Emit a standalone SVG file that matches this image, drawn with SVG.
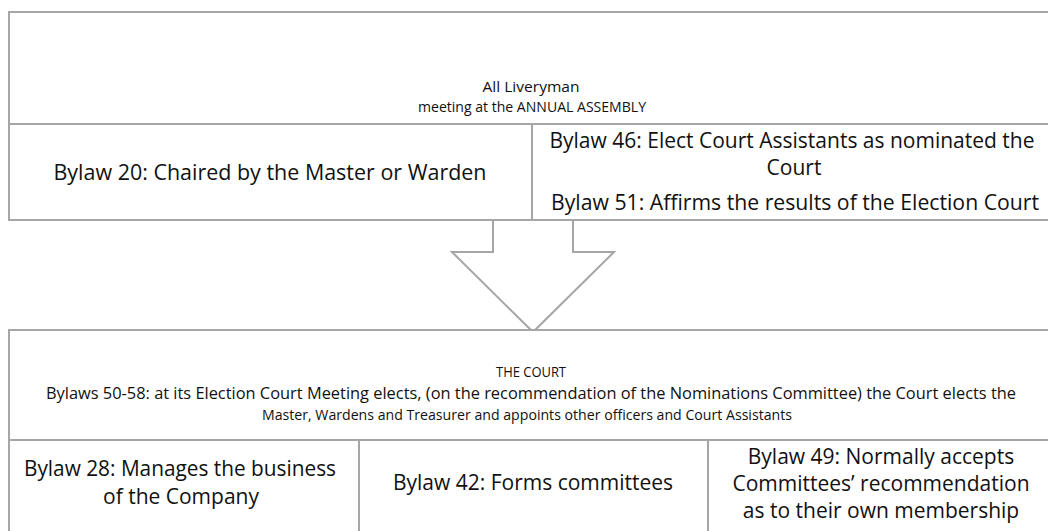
<svg xmlns="http://www.w3.org/2000/svg" width="1048" height="531" viewBox="0 0 1048 531">
  <style>
    .box { fill: #ffffff; stroke: #a6a6a6; stroke-width: 2; }
    .ln { stroke: #a6a6a6; stroke-width: 2; fill: none; }
    .sm { font-family: "Open Sans", "Liberation Sans", sans-serif; font-size: 14.5px; fill: #111111; text-anchor: middle; }
    .lg { font-family: "Open Sans", "Liberation Sans", sans-serif; font-size: 21px; fill: #111111; text-anchor: middle; }
  </style>
  <rect width="1048" height="531" fill="#ffffff"/>
  <g id="assembly">
    <rect class="box" x="9" y="12" width="1045" height="208"/>
    <line class="ln" x1="9" y1="124" x2="1054" y2="124"/>
    <line class="ln" x1="532" y1="124" x2="532" y2="220"/>
    <text class="sm" x="531" y="92" textLength="97" lengthAdjust="spacingAndGlyphs">All Liveryman</text>
    <text class="sm" x="532" y="112" textLength="228" lengthAdjust="spacingAndGlyphs">meeting at the ANNUAL ASSEMBLY</text>
  </g>
  <g id="bylaw20">
    <text class="lg" x="270" y="180" textLength="433" lengthAdjust="spacingAndGlyphs">Bylaw 20: Chaired by the Master or Warden</text>
  </g>
  <g id="bylaw46-51">
    <text class="lg" x="792" y="148">Bylaw 46: Elect Court Assistants as nominated the</text>
    <text class="lg" x="794" y="175">Court</text>
    <text class="lg" x="795" y="210" textLength="488" lengthAdjust="spacingAndGlyphs">Bylaw 51: Affirms the results of the Election Court</text>
  </g>
  <g id="connectors">
    <polygon class="box" points="493,220 573,220 573,252 614,252 533,332 452,252 493,252"/>
  </g>
  <g id="court">
    <rect class="box" x="9" y="330" width="1045" height="215"/>
    <line class="ln" x1="9" y1="440" x2="1054" y2="440"/>
    <line class="ln" x1="359" y1="440" x2="359" y2="545"/>
    <line class="ln" x1="708" y1="440" x2="708" y2="545"/>
    <text class="sm" x="531" y="377" textLength="70" lengthAdjust="spacingAndGlyphs">THE COURT</text>
    <text class="sm" x="531" y="399" style="font-size:15.5px" textLength="970" lengthAdjust="spacingAndGlyphs">Bylaws 50-58: at its Election Court Meeting elects, (on the recommendation of the Nominations Committee) the Court elects the</text>
    <text class="sm" x="527" y="420" textLength="530" lengthAdjust="spacingAndGlyphs">Master, Wardens and Treasurer and appoints other officers and Court Assistants</text>
  </g>
  <g id="bylaw28">
    <text class="lg" x="180" y="476" textLength="312" lengthAdjust="spacingAndGlyphs">Bylaw 28: Manages the business</text>
    <text class="lg" x="181" y="504">of the Company</text>
  </g>
  <g id="bylaw42">
    <text class="lg" x="533" y="490">Bylaw 42: Forms committees</text>
  </g>
  <g id="bylaw49">
    <text class="lg" x="881" y="464">Bylaw 49: Normally accepts</text>
    <text class="lg" x="881" y="491">Committees’ recommendation</text>
    <text class="lg" x="881" y="518">as to their own membership</text>
  </g>
</svg>
